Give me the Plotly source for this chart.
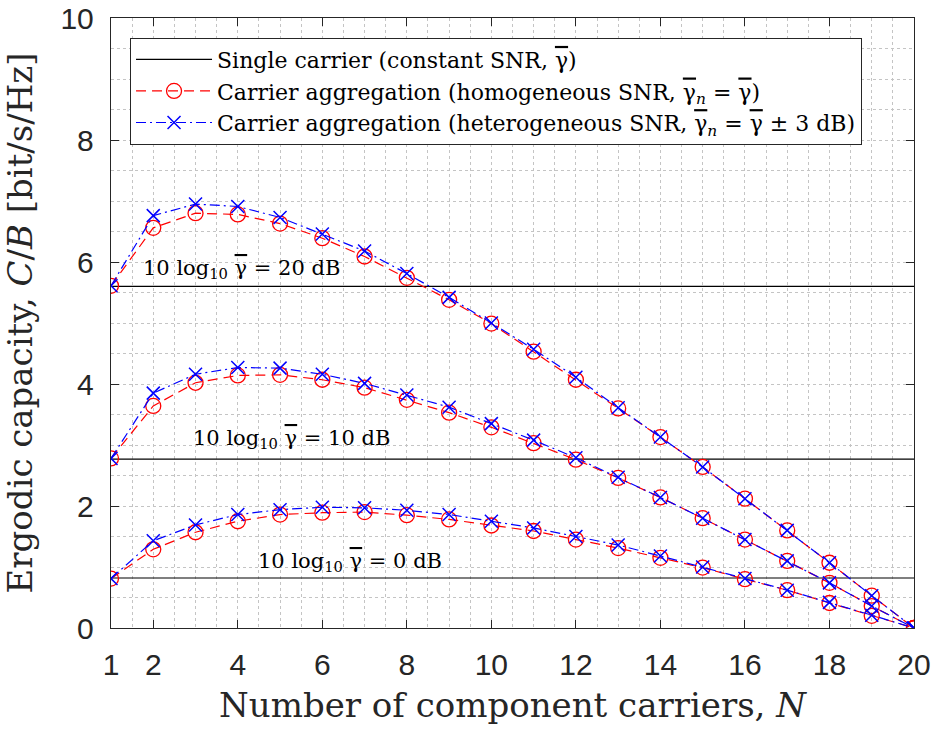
import plotly.graph_objects as go

N = list(range(1, 21))

# Single carrier constant capacities (0, 10, 20 dB)
single_0 = 0.82
single_10 = 2.77
single_20 = 5.60

# Homogeneous SNR (red circles)
homo_0 = [0.81, 1.29, 1.57, 1.75, 1.86, 1.89, 1.90, 1.85, 1.78, 1.68,
          1.59, 1.45, 1.31, 1.15, 0.99, 0.80, 0.62, 0.41, 0.20, 0.0]
homo_10 = [2.78, 3.64, 4.02, 4.14, 4.15, 4.07, 3.94, 3.74, 3.53, 3.29,
           3.03, 2.76, 2.46, 2.14, 1.80, 1.45, 1.10, 0.74, 0.36, 0.0]
homo_20 = [5.61, 6.56, 6.80, 6.78, 6.63, 6.39, 6.09, 5.74, 5.38, 4.99,
           4.53, 4.07, 3.60, 3.13, 2.64, 2.12, 1.60, 1.07, 0.53, 0.0]

# Heterogeneous SNR (blue crosses)
hetero_0 = [0.81, 1.43, 1.69, 1.86, 1.94, 1.98, 1.97, 1.93, 1.86, 1.75,
            1.64, 1.50, 1.36, 1.18, 1.00, 0.81, 0.62, 0.42, 0.21, 0.0]
hetero_10 = [2.78, 3.85, 4.16, 4.27, 4.26, 4.16, 4.01, 3.82, 3.62, 3.35,
             3.08, 2.79, 2.47, 2.14, 1.80, 1.45, 1.10, 0.74, 0.36, 0.0]
hetero_20 = [5.61, 6.76, 6.95, 6.91, 6.73, 6.46, 6.18, 5.81, 5.42, 5.00,
             4.57, 4.11, 3.61, 3.13, 2.64, 2.12, 1.60, 1.07, 0.53, 0.0]

x_ticks = [1, 2, 4, 6, 8, 10, 12, 14, 16, 18, 20]
y_ticks = [0, 2, 4, 6, 8, 10]

SERIF = "DejaVu Serif"
SANS = "Liberation Sans"
AX = "#262626"
GB = '<span style="text-decoration:overline">\u03b3</span>'  # gamma bar

fig = go.Figure()

legend_names = [
    f"Single carrier (constant SNR, {GB})",
    f"Carrier aggregation (homogeneous SNR, {GB}<sub><i>n</i></sub> = {GB})",
    f"Carrier aggregation (heterogeneous SNR, {GB}<sub><i>n</i></sub> = {GB} \u00b1 3 dB)",
]

for i, c in enumerate([single_20, single_10, single_0]):
    fig.add_trace(go.Scatter(
        x=[N[0], N[-1]], y=[c, c], mode="lines",
        line=dict(color="black", width=1.2),
        name=legend_names[0], legendgroup="s", showlegend=(i == 0)))

for i, ys in enumerate([homo_20, homo_10, homo_0]):
    fig.add_trace(go.Scatter(
        x=N, y=ys, mode="lines+markers",
        line=dict(color="red", width=1.2, dash="10px,6px"),
        marker=dict(symbol="circle-open", size=15, color="red", line=dict(width=1.3, color="red")),
        name=legend_names[1], legendgroup="h", showlegend=(i == 0)))

for i, ys in enumerate([hetero_20, hetero_10, hetero_0]):
    fig.add_trace(go.Scatter(
        x=N, y=ys, mode="lines+markers",
        line=dict(color="blue", width=1.2, dash="10px,4px,2px,4px"),
        marker=dict(symbol="x-thin-open", size=13, color="blue", line=dict(width=1.5, color="blue")),
        name=legend_names[2], legendgroup="t", showlegend=(i == 0)))

ann = [
    (4.08, 5.88, f"10 log<sub>10</sub> {GB} = 20 dB"),
    (5.28, 3.10, f"10 log<sub>10</sub> {GB} = 10 dB"),
    (6.66, 1.08, f"10 log<sub>10</sub> {GB} = 0 dB"),
]
for ax_, ay_, t in ann:
    fig.add_annotation(x=ax_, y=ay_, text=t, showarrow=False,
                       font=dict(family=SERIF, size=21, color="black"))

axis_common = dict(
    showline=True, linecolor=AX, linewidth=1.4, mirror="ticks",
    ticks="inside", ticklen=8, tickcolor=AX, tickwidth=1.3,
    showgrid=True, gridcolor="#c4c4c4", griddash="dot", gridwidth=1,
    zeroline=False, automargin=False, ticklabeloverflow="allow",
    tickfont=dict(family=SANS, size=30, color=AX),
)

fig.update_xaxes(
    range=[1, 20], tickvals=x_ticks, **axis_common, ticklabelstandoff=10,
    minor=dict(dtick=0.5, tick0=0, showgrid=True, gridcolor="#c4c4c4", griddash="dot"),
    title=dict(text="Number of component carriers, <i>N</i>",
               font=dict(family=SERIF, size=34, color=AX), standoff=12),
)
fig.update_yaxes(
    range=[0, 10], tickvals=y_ticks, **axis_common, ticklabelstandoff=10,
    minor=dict(dtick=0.5, tick0=0, showgrid=True, gridcolor="#c4c4c4", griddash="dot"),
    title=dict(text="Ergodic capacity, <i>C</i>/<i>B</i> [bit/s/Hz]",
               font=dict(family=SERIF, size=34, color=AX), standoff=17),
)

fig.update_layout(
    width=934, height=730,
    margin=dict(l=111, r=20, t=18, b=102),
    paper_bgcolor="white", plot_bgcolor="white",
    legend=dict(x=0.0237, y=0.968, xanchor="left", yanchor="top",
                bgcolor="white", bordercolor="#262626", borderwidth=1,
                font=dict(family=SERIF, size=22, color="black"),
                tracegroupgap=0, itemwidth=76),
)

fig.write_html("out.html")
